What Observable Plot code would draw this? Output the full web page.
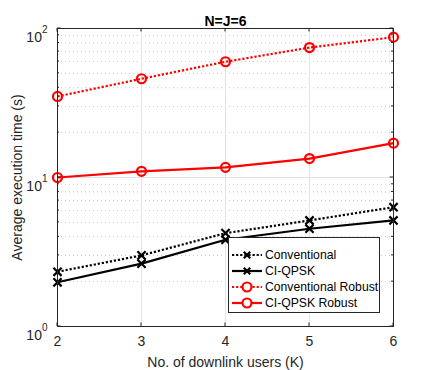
<!DOCTYPE html>
<html>
<head>
<meta charset="utf-8">
<script src="https://cdn.jsdelivr.net/npm/d3@7"></script>
<script src="https://cdn.jsdelivr.net/npm/@observablehq/plot@0.6"></script>
<style>
html,body{margin:0;padding:0;background:#fff;}
svg{font-family:"Liberation Sans",Arial,sans-serif;}
</style>
</head>
<body>
<div id="chart"></div>
<script>
const users = [2, 3, 4, 5, 6];
const conventional = [2.33, 3.0, 4.23, 5.15, 6.32];
const ciqpsk = [1.98, 2.64, 3.82, 4.53, 5.15];
const conventionalRobust = [35, 46, 59.8, 74.5, 87.5];
const ciqpskRobust = [10.0, 11.0, 11.7, 13.4, 17.0];
const seriesNames = ["Conventional", "CI-QPSK", "Conventional Robust", "CI-QPSK Robust"];
const xTicks = [2, 3, 4, 5, 6];
const yMajor = [1, 10, 100];
const yMinor = [2,3,4,5,6,7,8,9,20,30,40,50,60,70,80,90];
const yExponents = ["0", "1", "2"];
const chartTitle = "N=J=6";
const xLabel = "No. of downlink users (K)";
const yLabel = "Average execution time (s)";

const DOT = "2.2,1.9";
const styles = [
  {name: seriesNames[0], values: conventional, color: "#000", dash: DOT, symbol: "times"},
  {name: seriesNames[1], values: ciqpsk, color: "#000", dash: null, symbol: "times"},
  {name: seriesNames[2], values: conventionalRobust, color: "#ff0000", dash: DOT, symbol: "circle"},
  {name: seriesNames[3], values: ciqpskRobust, color: "#ff0000", dash: null, symbol: "circle"}
];

const marks = [
  Plot.ruleY(yMinor, {stroke: "#c8c8c8", strokeDasharray: "1,3", strokeWidth: 1}),
  Plot.ruleY(yMajor, {stroke: "#e3e3e3", strokeWidth: 1}),
  Plot.ruleX(xTicks, {stroke: "#e3e3e3", strokeWidth: 1}),
];
for (const s of styles) {
  const data = users.map((u, i) => ({x: u, y: s.values[i]}));
  marks.push(Plot.line(data, {x: "x", y: "y", stroke: s.color, strokeWidth: 2.2, strokeDasharray: s.dash, strokeLinecap: "butt", strokeLinejoin: "miter"}));
  marks.push(Plot.dot(data, {x: "x", y: "y", stroke: s.color, strokeWidth: 2.2, r: s.symbol === "circle" ? 4.5 : 3.8, symbol: s.symbol, fill: "none"}));
}
marks.push(Plot.frame({stroke: "#262626", strokeWidth: 1}));
marks.push(Plot.text([chartTitle], {frameAnchor: "top", dy: -12, fontWeight: "bold", fontSize: 14, fill: "#000"}));

const chart = Plot.plot({
  width: 436,
  height: 370,
  marginLeft: 57,
  marginRight: 43,
  marginTop: 28,
  marginBottom: 44,
  style: {fontFamily: "Liberation Sans, Arial, sans-serif", fontSize: "14px", color: "#262626", background: "#fff"},
  x: {domain: [2, 6], ticks: xTicks, tickSize: 0, tickPadding: 10, tickFormat: d => String(d), label: xLabel, labelAnchor: "center", labelArrow: "none", labelOffset: 40},
  y: {type: "log", domain: [1, 100], ticks: yMajor, tickSize: 0, tickPadding: 10, tickFormat: d => "10", label: yLabel, labelAnchor: "center", labelArrow: "none", labelOffset: 45},
  marks
});
document.getElementById("chart").appendChild(chart);

const svg = d3.select(chart);
// superscript exponents on y tick labels
svg.selectAll('[aria-label="y-axis tick label"] text').each(function(d, i) {
  const t = d3.select(this);
  t.attr("dy", "0.62em");
  t.append("tspan").attr("font-size", "10px").attr("dy", "-0.85em").text(yExponents[typeof d === "number" && d < yExponents.length ? d : i]);
});

// inward ticks, drawn via the plot's scales
const xs = chart.scale("x"), ys = chart.scale("y");
const g = svg.append("g").attr("stroke", "#262626").attr("stroke-width", 1);
const pTop = 28, pBottom = 326, pLeft = 57, pRight = 393;
for (const t of xTicks) {
  const px = xs.apply(t);
  g.append("line").attr("x1", px).attr("x2", px).attr("y1", pBottom).attr("y2", pBottom - 3.5);
  g.append("line").attr("x1", px).attr("x2", px).attr("y1", pTop).attr("y2", pTop + 3.5);
}
for (const t of yMajor) {
  const py = ys.apply(t);
  g.append("line").attr("x1", pLeft).attr("x2", pLeft + 3.5).attr("y1", py).attr("y2", py);
  g.append("line").attr("x1", pRight).attr("x2", pRight - 3.5).attr("y1", py).attr("y2", py);
}
for (const t of yMinor) {
  const py = ys.apply(t);
  g.append("line").attr("x1", pLeft).attr("x2", pLeft + 2).attr("y1", py).attr("y2", py);
  g.append("line").attr("x1", pRight).attr("x2", pRight - 2).attr("y1", py).attr("y2", py);
}

// legend
const lg = svg.append("g").attr("font-family", "Liberation Sans, Arial, sans-serif").attr("font-size", 12.2).attr("text-anchor", "start");
lg.append("rect").attr("x", 228.5).attr("y", 237.5).attr("width", 151).attr("height", 75).attr("fill", "#fff").attr("stroke", "#262626").attr("stroke-width", 1);
styles.forEach((s, i) => {
  const yy = 255 + i * 16;
  lg.append("line").attr("x1", 232).attr("x2", 262).attr("y1", yy).attr("y2", yy).attr("stroke", s.color).attr("stroke-width", 2.2).attr("stroke-dasharray", s.dash);
  if (s.symbol === "circle") {
    lg.append("circle").attr("cx", 247).attr("cy", yy).attr("r", 4.5).attr("fill", "#fff").attr("stroke", s.color).attr("stroke-width", 2.2);
  } else {
    const r = 3.2;
    lg.append("path").attr("d", `M${247-r},${yy-r}L${247+r},${yy+r}M${247-r},${yy+r}L${247+r},${yy-r}`).attr("stroke", s.color).attr("stroke-width", 2.2);
  }
  lg.append("text").attr("x", 265).attr("y", yy).attr("dy", "0.36em").attr("fill", "#000").text(s.name);
});
</script>
</body>
</html>
